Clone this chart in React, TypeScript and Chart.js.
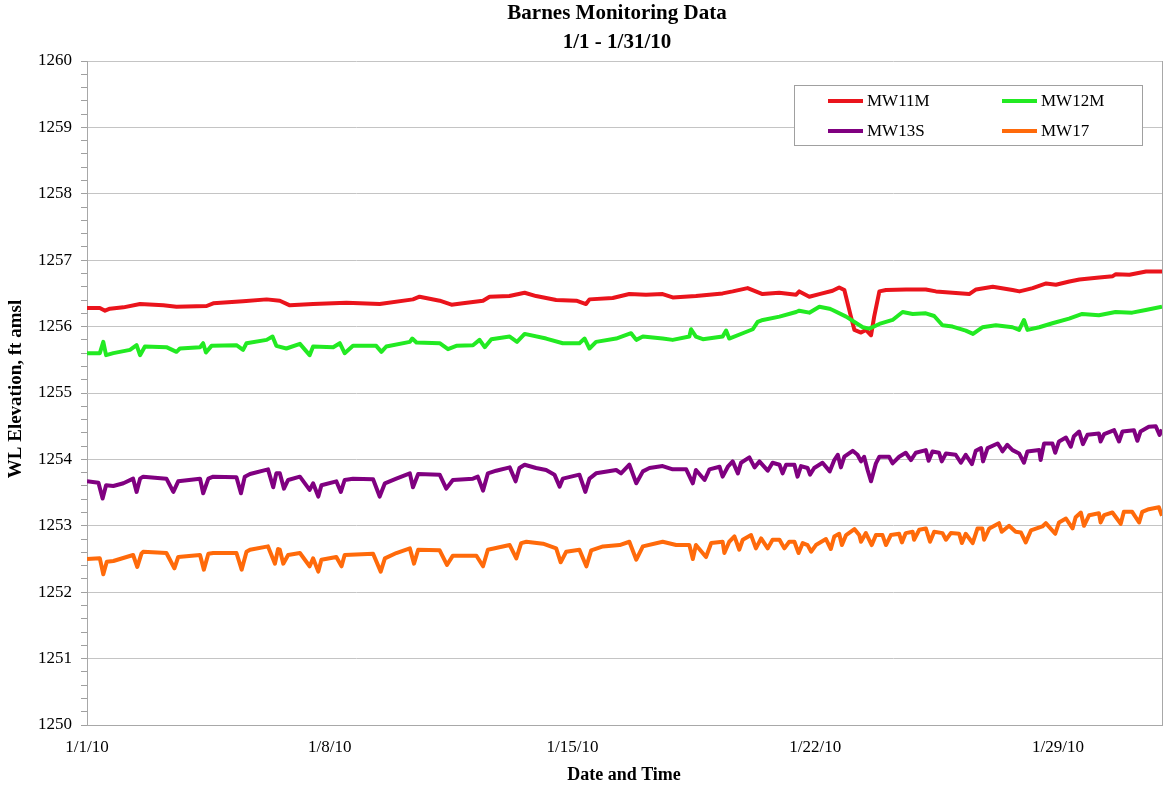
import React, { useEffect, useRef } from 'react';
import { Chart, registerables } from 'chart.js';

Chart.register(...registerables);

// x values are days since 1/1/10 00:00
const xTickDays = [0, 7, 14, 21, 28];
const xTickLabels = ['1/1/10', '1/8/10', '1/15/10', '1/22/10', '1/29/10'];
const seriesNames = ['MW11M', 'MW12M', 'MW13S', 'MW17'];
const seriesColors = ['#ea141c', '#22ea22', '#800080', '#ff6a0a'];

const MW11M: [number, number][] = [
  [0, 1256.28], [0.37, 1256.28], [0.52, 1256.24], [0.66, 1256.27], [1.05, 1256.29], [1.53, 1256.34],
  [2.2, 1256.32], [2.58, 1256.3], [3.45, 1256.31], [3.64, 1256.35], [4.5, 1256.38], [5.18, 1256.41],
  [5.56, 1256.39], [5.85, 1256.32], [6.52, 1256.34], [7.48, 1256.36], [8.44, 1256.34], [9.4, 1256.41],
  [9.59, 1256.45], [10.17, 1256.39], [10.51, 1256.33], [10.84, 1256.35], [11.42, 1256.39], [11.61, 1256.45],
  [12.18, 1256.46], [12.62, 1256.51], [12.95, 1256.46], [13.53, 1256.4], [14.11, 1256.39], [14.39, 1256.34],
  [14.49, 1256.41], [15.16, 1256.43], [15.64, 1256.49], [16.12, 1256.48], [16.6, 1256.49], [16.89, 1256.44],
  [17.56, 1256.46], [18.33, 1256.5], [18.62, 1256.53], [19.05, 1256.58], [19.48, 1256.49], [19.96, 1256.51],
  [20.45, 1256.48], [20.54, 1256.53], [20.83, 1256.45], [21.12, 1256.49], [21.5, 1256.54], [21.69, 1256.59],
  [21.84, 1256.55], [22.03, 1256.15], [22.13, 1255.95], [22.32, 1255.91], [22.46, 1255.95], [22.61, 1255.87],
  [22.7, 1256.15], [22.85, 1256.53], [23.04, 1256.55], [23.62, 1256.56], [24.19, 1256.56], [24.48, 1256.53],
  [24.96, 1256.51], [25.44, 1256.49], [25.64, 1256.56], [26.12, 1256.6], [26.69, 1256.55], [26.89, 1256.53],
  [27.27, 1256.58], [27.66, 1256.65], [27.94, 1256.63], [28.33, 1256.68], [28.62, 1256.71], [29.19, 1256.74],
  [29.58, 1256.76], [29.67, 1256.79], [30.06, 1256.78], [30.54, 1256.83], [31, 1256.83],
];

const MW12M: [number, number][] = [
  [0, 1255.6], [0.37, 1255.6], [0.47, 1255.77], [0.55, 1255.57], [0.76, 1255.6], [1.24, 1255.65],
  [1.43, 1255.72], [1.53, 1255.57], [1.67, 1255.7], [2.29, 1255.69], [2.58, 1255.62], [2.68, 1255.67],
  [3.26, 1255.69], [3.35, 1255.75], [3.43, 1255.61], [3.59, 1255.71], [4.31, 1255.72], [4.5, 1255.65],
  [4.6, 1255.75], [5.18, 1255.8], [5.35, 1255.85], [5.46, 1255.71], [5.75, 1255.67], [6.14, 1255.74],
  [6.42, 1255.57], [6.52, 1255.7], [7.1, 1255.69], [7.29, 1255.75], [7.43, 1255.6], [7.67, 1255.71],
  [8.34, 1255.71], [8.49, 1255.62], [8.63, 1255.7], [9.31, 1255.77], [9.38, 1255.82], [9.5, 1255.76],
  [10.17, 1255.75], [10.41, 1255.66], [10.65, 1255.71], [11.13, 1255.72], [11.32, 1255.8], [11.47, 1255.69],
  [11.66, 1255.81], [12.19, 1255.85], [12.4, 1255.77], [12.62, 1255.89], [13.24, 1255.82], [13.72, 1255.75],
  [14.2, 1255.75], [14.35, 1255.82], [14.49, 1255.67], [14.68, 1255.77], [15.26, 1255.82], [15.69, 1255.9],
  [15.84, 1255.8], [16.03, 1255.85], [16.6, 1255.82], [16.89, 1255.8], [17.37, 1255.85], [17.42, 1255.96],
  [17.56, 1255.85], [17.76, 1255.81], [18.33, 1255.85], [18.43, 1255.94], [18.52, 1255.82], [18.91, 1255.9],
  [19.2, 1255.96], [19.34, 1256.07], [19.49, 1256.1], [19.97, 1256.15], [20.45, 1256.22], [20.54, 1256.24],
  [20.83, 1256.21], [21.12, 1256.3], [21.41, 1256.27], [21.5, 1256.25], [21.89, 1256.15], [22.37, 1255.99],
  [22.56, 1255.97], [22.85, 1256.04], [23.23, 1256.1], [23.52, 1256.22], [23.81, 1256.19], [24.19, 1256.2],
  [24.43, 1256.16], [24.67, 1256.02], [24.96, 1256.0], [25.34, 1255.94], [25.55, 1255.89], [25.82, 1255.99],
  [26.21, 1256.02], [26.69, 1255.99], [26.88, 1255.95], [27.02, 1256.1], [27.12, 1255.95], [27.46, 1255.99],
  [27.84, 1256.05], [28.32, 1256.12], [28.7, 1256.19], [29.18, 1256.17], [29.66, 1256.22], [30.14, 1256.21],
  [30.53, 1256.25], [31, 1256.3],
];

const MW13S: [number, number][] = [
  [0, 1253.67], [0.33, 1253.65], [0.45, 1253.41], [0.55, 1253.61], [0.76, 1253.6], [1.05, 1253.64],
  [1.33, 1253.71], [1.43, 1253.51], [1.53, 1253.71], [1.62, 1253.74], [2.29, 1253.71], [2.49, 1253.51],
  [2.63, 1253.67], [3.26, 1253.71], [3.35, 1253.49], [3.5, 1253.71], [3.64, 1253.74], [4.31, 1253.73],
  [4.44, 1253.49], [4.55, 1253.74], [4.7, 1253.78], [5.22, 1253.85], [5.37, 1253.58], [5.46, 1253.79],
  [5.56, 1253.79], [5.68, 1253.56], [5.8, 1253.69], [6.14, 1253.74], [6.42, 1253.54], [6.52, 1253.64],
  [6.67, 1253.44], [6.76, 1253.61], [7.19, 1253.67], [7.32, 1253.51], [7.43, 1253.69], [7.67, 1253.71],
  [8.25, 1253.7], [8.44, 1253.44], [8.59, 1253.64], [8.92, 1253.71], [9.31, 1253.79], [9.4, 1253.58],
  [9.55, 1253.78], [10.17, 1253.77], [10.36, 1253.56], [10.55, 1253.69], [11.13, 1253.71], [11.27, 1253.74],
  [11.42, 1253.53], [11.56, 1253.79], [11.8, 1253.83], [12.19, 1253.88], [12.36, 1253.67], [12.47, 1253.87],
  [12.62, 1253.92], [12.95, 1253.87], [13.24, 1253.84], [13.48, 1253.77], [13.63, 1253.59], [13.72, 1253.71],
  [14.2, 1253.77], [14.37, 1253.51], [14.49, 1253.71], [14.68, 1253.79], [15.26, 1253.84], [15.4, 1253.79],
  [15.64, 1253.92], [15.84, 1253.64], [16.03, 1253.82], [16.22, 1253.87], [16.6, 1253.9], [16.89, 1253.85],
  [17.28, 1253.85], [17.47, 1253.64], [17.56, 1253.84], [17.81, 1253.69], [17.95, 1253.85], [18.24, 1253.89],
  [18.33, 1253.74], [18.48, 1253.89], [18.62, 1253.97], [18.77, 1253.79], [18.86, 1253.95], [19.1, 1254.03],
  [19.25, 1253.88], [19.39, 1253.97], [19.63, 1253.83], [19.77, 1253.95], [19.97, 1253.92], [20.06, 1253.79],
  [20.16, 1253.92], [20.4, 1253.92], [20.49, 1253.74], [20.59, 1253.9], [20.78, 1253.87], [20.85, 1253.77],
  [20.97, 1253.87], [21.21, 1253.95], [21.42, 1253.82], [21.55, 1253.99], [21.65, 1254.07], [21.74, 1253.88],
  [21.84, 1254.04], [22.08, 1254.13], [22.22, 1254.07], [22.32, 1253.97], [22.41, 1254.04], [22.51, 1253.84],
  [22.61, 1253.67], [22.75, 1253.94], [22.85, 1254.04], [23.13, 1254.04], [23.23, 1253.94], [23.42, 1254.04],
  [23.61, 1254.1], [23.76, 1253.99], [23.9, 1254.1], [24.19, 1254.14], [24.27, 1253.98], [24.38, 1254.12],
  [24.57, 1254.1], [24.65, 1253.97], [24.77, 1254.09], [25.05, 1254.07], [25.2, 1253.95], [25.34, 1254.07],
  [25.52, 1253.93], [25.63, 1254.13], [25.78, 1254.17], [25.84, 1253.97], [25.97, 1254.17], [26.26, 1254.24],
  [26.35, 1254.17], [26.4, 1254.12], [26.54, 1254.22], [26.69, 1254.14], [26.88, 1254.09], [27.02, 1253.95],
  [27.12, 1254.12], [27.46, 1254.14], [27.5, 1253.99], [27.6, 1254.24], [27.84, 1254.24], [27.92, 1254.1],
  [28.03, 1254.27], [28.23, 1254.33], [28.37, 1254.19], [28.46, 1254.35], [28.61, 1254.42], [28.72, 1254.23],
  [28.85, 1254.37], [29.18, 1254.39], [29.23, 1254.27], [29.33, 1254.38], [29.62, 1254.44], [29.76, 1254.27],
  [29.86, 1254.42], [30.19, 1254.44], [30.29, 1254.28], [30.38, 1254.42], [30.62, 1254.49], [30.82, 1254.5],
  [30.93, 1254.37], [31, 1254.45],
];

const MW17: [number, number][] = [
  [0, 1252.5], [0.37, 1252.51], [0.47, 1252.27], [0.57, 1252.46], [0.76, 1252.47], [1.33, 1252.56],
  [1.45, 1252.38], [1.57, 1252.58], [1.62, 1252.61], [2.29, 1252.59], [2.52, 1252.36], [2.63, 1252.53],
  [3.26, 1252.56], [3.37, 1252.34], [3.5, 1252.58], [3.64, 1252.59], [4.31, 1252.59], [4.46, 1252.34],
  [4.6, 1252.61], [4.7, 1252.64], [5.22, 1252.69], [5.42, 1252.43], [5.51, 1252.65], [5.56, 1252.64],
  [5.66, 1252.43], [5.8, 1252.56], [6.14, 1252.59], [6.42, 1252.39], [6.52, 1252.51], [6.67, 1252.31],
  [6.76, 1252.49], [7.19, 1252.53], [7.34, 1252.39], [7.43, 1252.56], [8.25, 1252.58], [8.47, 1252.31],
  [8.59, 1252.51], [8.92, 1252.59], [9.31, 1252.66], [9.43, 1252.43], [9.55, 1252.64], [10.17, 1252.63],
  [10.38, 1252.41], [10.55, 1252.55], [11.23, 1252.55], [11.42, 1252.39], [11.56, 1252.64], [12.19, 1252.71],
  [12.38, 1252.51], [12.52, 1252.74], [12.67, 1252.76], [13.15, 1252.73], [13.53, 1252.66], [13.66, 1252.45],
  [13.82, 1252.61], [14.2, 1252.64], [14.4, 1252.39], [14.54, 1252.63], [14.88, 1252.69], [15.36, 1252.71],
  [15.64, 1252.76], [15.84, 1252.49], [16.03, 1252.69], [16.6, 1252.76], [16.99, 1252.71], [17.37, 1252.71],
  [17.47, 1252.5], [17.56, 1252.71], [17.85, 1252.53], [18.0, 1252.74], [18.33, 1252.76], [18.38, 1252.59],
  [18.52, 1252.76], [18.67, 1252.84], [18.81, 1252.64], [18.91, 1252.79], [19.15, 1252.86], [19.29, 1252.66],
  [19.44, 1252.81], [19.63, 1252.66], [19.77, 1252.79], [19.97, 1252.79], [20.11, 1252.66], [20.25, 1252.76],
  [20.4, 1252.76], [20.52, 1252.59], [20.64, 1252.74], [20.78, 1252.71], [20.88, 1252.61], [21.02, 1252.71],
  [21.31, 1252.8], [21.45, 1252.65], [21.55, 1252.84], [21.69, 1252.88], [21.77, 1252.71], [21.89, 1252.86],
  [22.13, 1252.95], [22.27, 1252.86], [22.32, 1252.76], [22.46, 1252.89], [22.63, 1252.71], [22.75, 1252.86],
  [22.94, 1252.86], [23.04, 1252.71], [23.18, 1252.86], [23.42, 1252.88], [23.5, 1252.75], [23.61, 1252.89],
  [23.81, 1252.91], [23.85, 1252.79], [24.0, 1252.94], [24.19, 1252.96], [24.31, 1252.76], [24.43, 1252.91],
  [24.67, 1252.89], [24.77, 1252.79], [24.91, 1252.89], [25.15, 1252.88], [25.23, 1252.74], [25.34, 1252.88],
  [25.54, 1252.74], [25.68, 1252.96], [25.82, 1252.96], [25.87, 1252.79], [26.02, 1252.96], [26.3, 1253.04],
  [26.38, 1252.91], [26.59, 1253.0], [26.78, 1252.91], [26.93, 1252.9], [27.07, 1252.75], [27.22, 1252.93],
  [27.55, 1252.99], [27.65, 1253.04], [27.92, 1252.88], [28.03, 1253.05], [28.23, 1253.11], [28.42, 1252.96],
  [28.51, 1253.13], [28.66, 1253.2], [28.75, 1253.0], [28.9, 1253.16], [29.18, 1253.19], [29.23, 1253.05],
  [29.33, 1253.16], [29.57, 1253.2], [29.81, 1253.03], [29.9, 1253.21], [30.14, 1253.21], [30.34, 1253.05],
  [30.43, 1253.21], [30.62, 1253.25], [30.91, 1253.28], [31, 1253.15],
];

const seriesData = [MW11M, MW12M, MW13S, MW17];

const FONT = '"Liberation Serif", "Times New Roman", serif';
const isInt = (v: number) => Math.abs(v - Math.round(v)) < 1e-6;

const decorPlugin = {
  id: 'decor',
  beforeDatasetsDraw(chart: any) {
    const { ctx, chartArea } = chart;
    ctx.save();
    ctx.strokeStyle = '#a8a8a8';
    ctx.lineWidth = 1;
    ctx.beginPath();
    ctx.moveTo(Math.round(chartArea.right) + 0.5, chartArea.top);
    ctx.lineTo(Math.round(chartArea.right) + 0.5, chartArea.bottom);
    ctx.stroke();
    ctx.restore();
  },
  afterDatasetsDraw(chart: any) {
    const { ctx } = chart;
    ctx.save();
    const bx = 794.5, by = 85.5, bw = 348, bh = 60;
    ctx.fillStyle = '#ffffff';
    ctx.fillRect(bx, by, bw, bh);
    ctx.strokeStyle = '#a0a0a0';
    ctx.lineWidth = 1;
    ctx.strokeRect(bx, by, bw, bh);
    const cols = [828, 1002];
    const rows = [101, 131];
    ctx.font = `17px ${FONT}`;
    ctx.textBaseline = 'middle';
    ctx.textAlign = 'left';
    seriesNames.forEach((name, i) => {
      const cx = cols[i % 2];
      const cy = rows[Math.floor(i / 2)];
      ctx.strokeStyle = seriesColors[i];
      ctx.lineWidth = 4;
      ctx.beginPath();
      ctx.moveTo(cx, cy);
      ctx.lineTo(cx + 35, cy);
      ctx.stroke();
      ctx.fillStyle = '#000';
      ctx.fillText(name, cx + 39, cy + 1);
    });
    ctx.restore();
  },
  afterDraw(chart: any) {
    const { ctx, chartArea } = chart;
    ctx.save();
    ctx.fillStyle = '#000';
    ctx.textAlign = 'center';
    ctx.textBaseline = 'middle';
    ctx.font = `bold 21px ${FONT}`;
    ctx.fillText('Barnes Monitoring Data', 617, 14);
    ctx.fillText('1/1 - 1/31/10', 617, 43);
    ctx.font = `bold 18px ${FONT}`;
    ctx.fillText('Date and Time', 624, 775);
    ctx.translate(16, (chartArea.top + chartArea.bottom) / 2 - 4);
    ctx.rotate(-Math.PI / 2);
    ctx.font = `bold 19px ${FONT}`;
    ctx.fillText('WL Elevation, ft amsl', 0, 0);
    ctx.restore();
  },
};

export default function App() {
  const canvasRef = useRef<HTMLCanvasElement | null>(null);

  useEffect(() => {
    document.body.style.margin = '0';
    const canvas = canvasRef.current;
    if (!canvas) return;
    const chart = new Chart(canvas, {
      type: 'line',
      data: {
        datasets: seriesData.map((pts, i) => ({
          label: seriesNames[i],
          data: pts.map(([x, y]) => ({ x, y })),
          borderColor: seriesColors[i],
          backgroundColor: seriesColors[i],
          borderWidth: 4,
          pointRadius: 0,
          tension: 0,
          fill: false,
          order: 4 - i,
          borderJoinStyle: 'round' as const,
        })),
      },
      options: {
        animation: false,
        responsive: false,
        maintainAspectRatio: false,
        layout: { padding: { top: 61, right: 5, left: 0, bottom: 0 } },
        plugins: {
          legend: { display: false },
          title: { display: false },
          tooltip: { enabled: false },
        },
        scales: {
          x: {
            type: 'linear',
            min: 0,
            max: 31,
            afterBuildTicks: (scale: any) => {
              scale.ticks = xTickDays.map((v) => ({ value: v }));
            },
            afterFit: (scale: any) => {
              scale.height = 65;
            },
            ticks: {
              autoSkip: false,
              maxRotation: 0,
              padding: 12,
              color: '#000',
              font: { family: FONT, size: 17 },
              callback: (v: any) => {
                const idx = xTickDays.indexOf(Number(v));
                return idx >= 0 ? xTickLabels[idx] : '';
              },
            },
            grid: { drawOnChartArea: false, tickLength: 0 },
            border: { display: true, color: '#a8a8a8', width: 1 },
          },
          y: {
            type: 'linear',
            min: 1250,
            max: 1260,
            afterFit: (scale: any) => {
              scale.width = 87;
            },
            ticks: {
              stepSize: 0.2,
              maxTicksLimit: 100,
              autoSkip: false,
              padding: 9,
              color: '#000',
              font: { family: FONT, size: 17 },
              callback: (v: any) => (isInt(Number(v)) ? String(Math.round(Number(v))) : ''),
            },
            grid: {
              color: (ctx: any) => (ctx.tick && isInt(ctx.tick.value) ? '#c4c4c4' : 'rgba(0,0,0,0)'),
              tickColor: '#a0a0a0',
              tickLength: 6,
              lineWidth: 1,
            },
            border: { display: true, color: '#a8a8a8', width: 1 },
          },
        },
      },
      plugins: [decorPlugin],
    });
    return () => chart.destroy();
  }, []);

  return (
    <div style={{ position: 'absolute', left: 0, top: 0, width: 1167, height: 790, background: '#fff' }}>
      <canvas ref={canvasRef} width={1167} height={790} style={{ display: 'block' }} />
    </div>
  );
}
